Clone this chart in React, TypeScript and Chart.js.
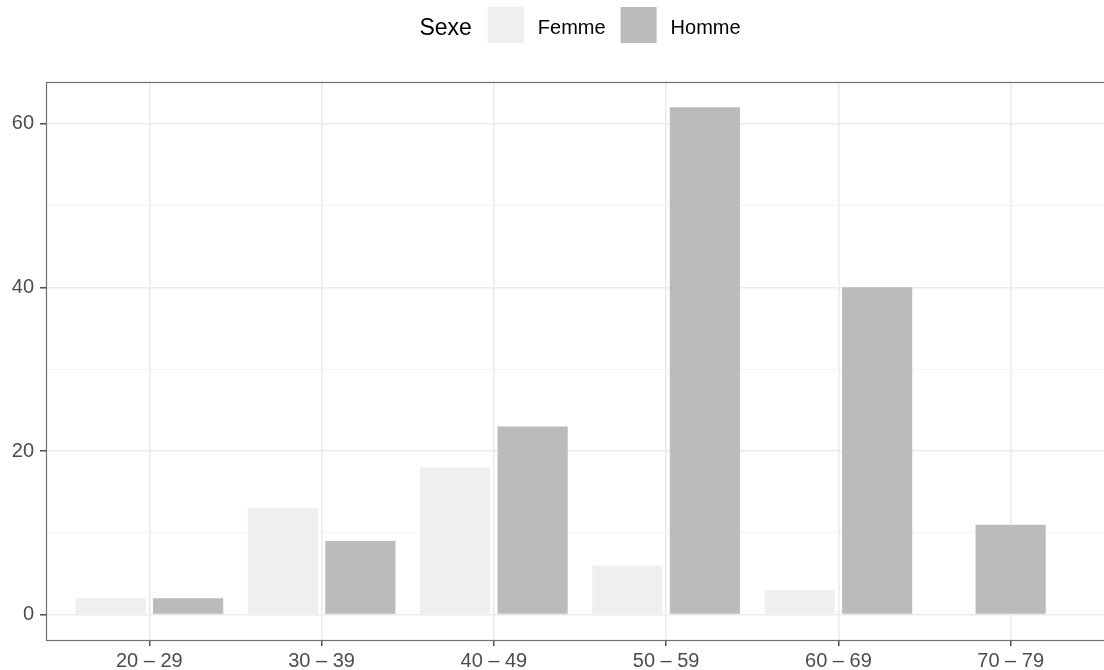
import React, { useEffect, useRef } from "react";
import { Chart, registerables } from "chart.js";

Chart.register(...registerables);

const categories = ["20 – 29", "30 – 39", "40 – 49", "50 – 59", "60 – 69", "70 – 79"];
const femme: (number | null)[] = [2, 13, 18, 6, 3, null];
const homme: (number | null)[] = [2, 9, 23, 62, 40, 11];
const yTicks = [0, 10, 20, 30, 40, 50, 60];
const yMajor = [0, 20, 40, 60];
const legendTitle = "Sexe";
const seriesNames = ["Femme", "Homme"];
const seriesColors = ["#EFEFEF", "#BBBBBB"];

const FONT = '"Liberation Sans", Arial, Helvetica, sans-serif';
const CANVAS_W = 1120;
const CANVAS_H = 670;
const BAR_SLOT = (1068 / 6.2) * 0.45;

const panelBorder = {
  id: "panelBorder",
  afterDatasetsDraw(chart: any) {
    const { ctx, chartArea } = chart;
    ctx.save();
    ctx.strokeStyle = "#707070";
    ctx.lineWidth = 1.2;
    ctx.strokeRect(
      Math.round(chartArea.left) + 0.5,
      Math.round(chartArea.top) + 0.5,
      Math.round(chartArea.right - chartArea.left),
      Math.round(chartArea.bottom - chartArea.top)
    );
    ctx.restore();
  },
};

const topLegend = {
  id: "topLegend",
  afterDraw(chart: any) {
    const { ctx, chartArea } = chart;
    const center = (chartArea.left + chartArea.right) / 2;
    ctx.save();
    ctx.font = `23px ${FONT}`;
    const titleW = ctx.measureText(legendTitle).width;
    ctx.font = `20px ${FONT}`;
    const labelWs = seriesNames.map((n) => ctx.measureText(n).width);
    const box = 36;
    const gapTitle = 16;
    const gapLabel = 14;
    const gapItem = 15;
    let total = titleW + gapTitle;
    labelWs.forEach((w, i) => {
      total += box + gapLabel + w + (i < labelWs.length - 1 ? gapItem : 0);
    });
    let x = center - total / 2;
    ctx.fillStyle = "#000000";
    ctx.textBaseline = "alphabetic";
    ctx.textAlign = "left";
    ctx.font = `23px ${FONT}`;
    ctx.fillText(legendTitle, x, 34.5);
    x += titleW + gapTitle;
    ctx.font = `20px ${FONT}`;
    seriesNames.forEach((n, i) => {
      ctx.fillStyle = seriesColors[i];
      ctx.fillRect(x, 7, box, box);
      x += box + gapLabel;
      ctx.fillStyle = "#000000";
      ctx.fillText(n, x, 33.5);
      x += labelWs[i] + gapItem;
    });
    ctx.restore();
  },
};

export default function App() {
  const ref = useRef<HTMLCanvasElement | null>(null);

  useEffect(() => {
    if (!ref.current) return;
    const toPoints = (arr: (number | null)[]) => arr.map((v, i) => ({ x: i, y: v }));
    const chart = new Chart(ref.current, {
      type: "bar",
      data: {
        datasets: [
          {
            label: seriesNames[0],
            data: toPoints(femme) as any,
            backgroundColor: seriesColors[0],
            borderColor: "rgba(0,0,0,0)",
            borderWidth: { left: 4, right: 4, top: 0, bottom: 0 } as any,
            borderSkipped: false as any,
            barThickness: BAR_SLOT,
          },
          {
            label: seriesNames[1],
            data: toPoints(homme) as any,
            backgroundColor: seriesColors[1],
            borderColor: "rgba(0,0,0,0)",
            borderWidth: { left: 4, right: 4, top: 0, bottom: 0 } as any,
            borderSkipped: false as any,
            barThickness: BAR_SLOT,
          },
        ],
      },
      options: {
        responsive: false,
        animation: false,
        devicePixelRatio: 1,
        skipNull: true,
        layout: { padding: { top: 82, right: CANVAS_W - 1114, left: 0, bottom: 0 } },
        plugins: {
          legend: { display: false },
          tooltip: { enabled: false },
          title: { display: false },
        },
        scales: {
          x: {
            type: "linear",
            min: -0.6,
            max: 5.6,
            offset: false,
            afterBuildTicks: (scale: any) => {
              scale.ticks = categories.map((_, i) => ({ value: i }));
            },
            afterFit: (scale: any) => {
              scale.height = 30;
            },
            border: { display: false },
            grid: {
              offset: false,
              color: "#EBEBEB",
              lineWidth: 1.6,
              tickColor: "#333333",
              tickWidth: 1.3,
              tickLength: 6,
            },
            ticks: {
              autoSkip: false,
              maxRotation: 0,
              padding: 3,
              color: "#4D4D4D",
              font: { family: FONT, size: 20 },
              callback: (v: any) => categories[Math.round(Number(v))] ?? "",
            },
          },
          y: {
            type: "linear",
            min: -3.1,
            max: 65.1,
            afterBuildTicks: (scale: any) => {
              scale.ticks = yTicks.map((v) => ({ value: v }));
            },
            afterFit: (scale: any) => {
              scale.width = 46;
            },
            border: { display: false },
            grid: {
              color: (c: any) => (yMajor.includes(c.tick?.value) ? "#EBEBEB" : "#F3F3F3"),
              lineWidth: (c: any) => (yMajor.includes(c.tick?.value) ? 1.6 : 1),
              tickColor: (c: any) => (yMajor.includes(c.tick?.value) ? "#333333" : "rgba(0,0,0,0)"),
              tickWidth: 1.3,
              tickLength: 6,
            },
            ticks: {
              padding: 6,
              color: "#4D4D4D",
              font: { family: FONT, size: 20 },
              callback: (v: any) => (yMajor.includes(Number(v)) ? String(v) : ""),
            },
          },
        },
      } as any,
      plugins: [panelBorder, topLegend],
    });
    return () => chart.destroy();
  }, []);

  return (
    <div
      style={{
        position: "absolute",
        left: 0,
        top: 0,
        width: 1104,
        height: 670,
        overflow: "hidden",
        background: "#FFFFFF",
      }}
    >
      <canvas ref={ref} width={CANVAS_W} height={CANVAS_H} style={{ width: CANVAS_W, height: CANVAS_H, display: "block" }} />
    </div>
  );
}
